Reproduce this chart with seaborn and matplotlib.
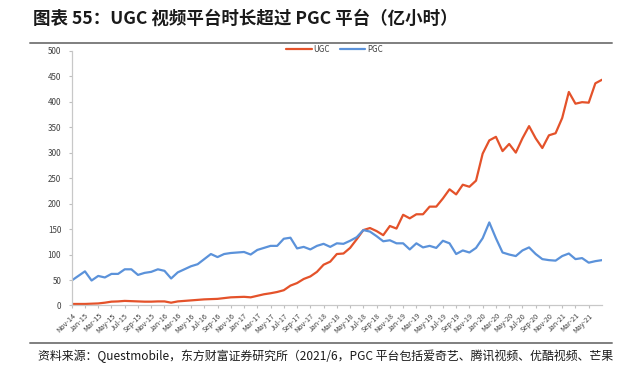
import pandas as pd
import matplotlib.pyplot as plt
import seaborn as sns
from matplotlib.lines import Line2D

# monthly series, Nov-14 onwards (亿小时)
months = pd.date_range("2014-11-01", periods=81, freq="MS").strftime("%b-%y").tolist()

ugc = [3, 3, 3, 3.5, 4, 5.5, 7.5, 8, 9, 8.5,
       8, 7.5, 7.5, 8, 8, 5.5, 8, 9, 10, 11,
       12, 12.5, 13, 14.5, 16, 16.5, 17, 16, 19, 22,
       24, 26.5, 30, 39, 44, 52, 57, 66, 80, 86,
       101, 102, 113, 130, 148, 152, 146, 138, 156, 151,
       178, 171, 179, 179, 194, 194, 210, 228, 218, 237,
       233, 245, 298, 324, 331, 303, 317, 300, 328, 352,
       328, 309, 334, 338, 368, 419, 396, 399, 398, 436,
       443]

pgc = [49, 58, 67, 49, 58, 55, 62, 62, 71, 71,
       60, 64, 66, 71, 68, 53, 65, 71, 77, 81,
       91, 101, 95, 101, 103, 104, 105, 100, 109, 113,
       117, 117, 131, 133, 112, 115, 110, 117, 121, 115,
       122, 121, 127, 134, 148, 145, 136, 126, 128, 122,
       122, 110, 122, 114, 117, 113, 127, 122, 101, 108,
       104, 113, 132, 163, 132, 104, 100, 97, 108, 114,
       101, 91, 89, 88, 97, 102, 91, 93, 84, 87,
       89]

series_names = ["UGC", "PGC"]
colors = {"UGC": "#E4522A", "PGC": "#5B92DA"}

df = pd.DataFrame({"idx": list(range(len(months))) * 2,
                   "value": ugc + pgc,
                   "series": ["UGC"] * len(ugc) + ["PGC"] * len(pgc)})

sns.set_theme(style="white")
plt.rcParams["font.family"] = ["Noto Sans CJK SC", "DejaVu Sans"]

fig = plt.figure(figsize=(6.43, 3.72), dpi=100)
ax = fig.add_axes([0.1115, 0.1788, 0.8247, 0.6849])

sns.lineplot(data=df, x="idx", y="value", hue="series", hue_order=series_names,
             palette=colors, linewidth=1.6, ax=ax, legend=False)

ax.set_xlim(0, len(months) - 1)
ax.set_ylim(0, 500)
ax.set_yticks(range(0, 501, 50))
tick_idx = list(range(0, 79, 2))
ax.set_xticks(tick_idx)
ax.set_xticklabels([months[i] for i in tick_idx], rotation=45, ha="right",
                   rotation_mode="anchor", fontsize=5.2, color="#404040")
ax.tick_params(axis="y", labelsize=5.8, labelcolor="#404040", length=2.5,
               color="#bfbfbf", width=0.8, direction="out", left=True, pad=5)
ax.tick_params(axis="x", length=2.5, color="#bfbfbf", width=0.8,
               direction="out", bottom=True, pad=2)
ax.set_xlabel("")
ax.set_ylabel("")
for s in ["top", "right"]:
    ax.spines[s].set_visible(False)
for s in ["left", "bottom"]:
    ax.spines[s].set_color("#c8c8c8")
    ax.spines[s].set_linewidth(0.9)

handles = [Line2D([], [], color=colors[n], lw=1.6) for n in series_names]
fig.legend(handles, series_names, loc="center", bbox_to_anchor=(0.52, 0.868),
           ncol=2, frameon=False, fontsize=5.8, handlelength=3.2,
           handletextpad=0.2, columnspacing=1.2, labelcolor="#404040")

fig.text(33 / 643, 1 - 19 / 372, "图表 55：UGC 视频平台时长超过 PGC 平台（亿小时）",
         fontsize=12.6, fontweight="bold", va="center", ha="left", color="#1a1a1a")
fig.add_artist(Line2D([30 / 643, 612 / 643], [1 - 43 / 372] * 2,
                      color="#7f7f7f", lw=1.4))
fig.add_artist(Line2D([30 / 643, 612 / 643], [1 - 343 / 372] * 2,
                      color="#7f7f7f", lw=1.4))
fig.text(38 / 643, 1 - 356 / 372,
         "资料来源：Questmobile，东方财富证券研究所（2021/6，PGC 平台包括爱奇艺、腾讯视频、优酷视频、芒果",
         fontsize=8.6, va="center", ha="left", color="#1a1a1a")

fig.savefig("out.png", dpi=100)
